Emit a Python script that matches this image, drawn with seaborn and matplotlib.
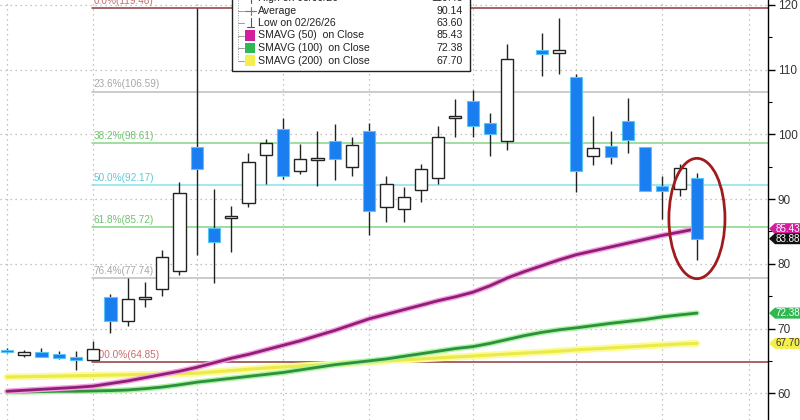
import numpy as np
import pandas as pd
import matplotlib
matplotlib.use("Agg")
import matplotlib.pyplot as plt
from matplotlib.patches import Ellipse, Rectangle, Polygon
import seaborn as sns

sns.set_style("white")
plt.rcParams['font.family'] = ['Liberation Sans', 'DejaVu Sans']

# ---------------- data ----------------
day_index = list(range(41))
opens = [66.5, 65.9, 66.3, 66.05, 65.6, 65.2, 74.9, 71.15, 74.55, 76.1,
         78.9, 98.1, 85.6, 87.05, 89.35, 96.8, 100.8, 94.4, 96.1, 99.0,
         95.0, 100.5, 88.8, 88.4, 91.35, 93.3, 102.6, 105.2, 101.8, 99.0,
         np.nan, 113.05, 112.6, 108.8, 96.7, 98.25, 102.1, 98.0, 92.1, 91.5,
         93.2]
highs = [67.0, 66.7, 67.0, 66.6, 66.6, 68.1, 75.3, 77.75, 77.2, 82.1,
         92.7, 119.48, 91.5, 89.0, 97.2, 99.3, 102.6, 98.5, 100.5, 101.6,
         99.65, 101.8, 93.5, 91.8, 95.4, 101.3, 105.4, 106.9, 103.35, 114.0,
         np.nan, 115.6, 118.0, 109.4, 102.85, 100.5, 105.7, 98.0, 93.5, 95.5,
         94.1]
lows = [66.15, 65.55, 65.6, 65.25, 63.6, 65.2, 69.25, 70.4, 73.4, 75.1,
        78.3, 81.4, 77.0, 81.9, 88.8, 92.3, 93.1, 93.9, 92.0, 92.95,
        93.6, 84.45, 86.4, 86.5, 89.6, 92.3, 99.55, 99.65, 96.65, 97.6,
        np.nan, 109.0, 109.3, 91.05, 95.3, 95.5, 97.1, 91.25, 87.0, 90.5,
        80.6]
closes = [66.35, 66.3, 65.6, 65.4, 65.1, 66.9, 71.2, 74.55, 74.75, 81.0,
          90.9, 94.65, 83.4, 87.3, 95.7, 98.7, 93.6, 96.15, 96.3, 96.2,
          98.4, 88.2, 92.3, 90.3, 94.6, 99.65, 102.8, 101.35, 100.05, 111.6,
          np.nan, 112.4, 113.05, 94.4, 97.95, 96.55, 99.15, 91.25, 91.25, 94.75,
          83.88]

sma50 = [60.3, 60.45, 60.6, 60.75, 60.9, 61.1, 61.5, 61.9, 62.4, 62.9,
         63.4, 64.0, 64.7, 65.4, 66.0, 66.7, 67.4, 68.1, 68.9, 69.7,
         70.6, 71.5, 72.2, 72.9, 73.6, 74.3, 74.9, 75.6, 76.6, 77.8,
         78.8, 79.7, 80.6, 81.4, 82.0, 82.6, 83.2, 83.8, 84.4, 84.9, 85.43]
sma100 = [60.2, 60.2, 60.25, 60.3, 60.3, 60.35, 60.4, 60.5, 60.7, 60.95,
          61.3, 61.7, 62.0, 62.3, 62.6, 62.9, 63.2, 63.6, 64.0, 64.4,
          64.7, 65.0, 65.3, 65.7, 66.1, 66.5, 66.9, 67.2, 67.7, 68.3,
          68.9, 69.4, 69.8, 70.1, 70.45, 70.8, 71.1, 71.4, 71.8, 72.1, 72.38]
sma200 = [62.5, 62.55, 62.6, 62.65, 62.7, 62.75, 62.8, 62.85, 62.9, 62.95,
          63.0, 63.1, 63.3, 63.5, 63.7, 63.9, 64.05, 64.2, 64.35, 64.5,
          64.65, 64.8, 65.0, 65.15, 65.3, 65.45, 65.6, 65.75, 65.9, 66.05,
          66.2, 66.35, 66.5, 66.7, 66.85, 67.0, 67.15, 67.3, 67.45, 67.6, 67.70]

fib_pct = ["0.0%", "23.6%", "38.2%", "50.0%", "61.8%", "76.4%", "100.0%"]
fib_val = [119.48, 106.59, 98.61, 92.17, 85.72, 77.74, 64.85]
fib_line_col = ["#8c3b3b", "#bdbdbd", "#86d486", "#86e3ea", "#86d486", "#bdbdbd", "#8c3b3b"]
fib_text_col = ["#c96d6d", "#a8a8a8", "#6cc46c", "#5fc9d6", "#6cc46c", "#a8a8a8", "#c96d6d"]

legend_labels = ["High on 03/09/26", "Average", "Low on 02/26/26",
                 "SMAVG (50)  on Close", "SMAVG (100)  on Close", "SMAVG (200)  on Close"]
legend_values = ["119.48", "90.14", "63.60", "85.43", "72.38", "67.70"]

tag_values = [85.43, 83.88, 72.38, 67.70]
tag_bg = ["#d21f9e", "#111111", "#2fb84f", "#f4ef4c"]
tag_fg = ["white", "white", "white", "#333333"]

yticks = [60, 70, 80, 90, 100, 110, 120]
vgrid_days = [0, 5, 11, 16, 21, 27, 33, 38, 43]

# ---------------- figure ----------------
W, H = 800, 420
fig = plt.figure(figsize=(8, 4.2), dpi=100)
ax = fig.add_axes([0, 0, 768 / W, 1])
XMIN, XMAX = -0.406, 44.12
YMIN, YMAX = 55.86, 120.77
ax.set_xlim(XMIN, XMAX)
ax.set_ylim(YMIN, YMAX)

# grid
for y in yticks:
    ax.axhline(y, color="#b0b0b0", lw=0.9, ls=(0, (1, 3)), zorder=0)
for d in vgrid_days:
    ax.axvline(d, color="#b0b0b0", lw=0.9, ls=(0, (1, 3)), zorder=0)

# fibonacci levels
for p, v, lc, tc in zip(fib_pct, fib_val, fib_line_col, fib_text_col):
    ax.plot([4.95, XMAX], [v, v], color=lc, lw=1.1, zorder=1)
    ax.text(5.0, v + 0.35, f"{p}({v:.2f})", color=tc, fontsize=7.2,
            va="bottom", ha="left", zorder=1)

# moving averages with glow
ma_df = pd.DataFrame({"day": day_index, "s50": sma50, "s100": sma100, "s200": sma200})
sns.lineplot(data=ma_df, x="day", y="s200", ax=ax, color="#fbfb9a", lw=5, zorder=2, legend=False)
sns.lineplot(data=ma_df, x="day", y="s200", ax=ax, color="#eaea4a", lw=2.2, zorder=2, legend=False)
sns.lineplot(data=ma_df, x="day", y="s100", ax=ax, color="#a8f5a0", lw=4.0, zorder=2, legend=False)
sns.lineplot(data=ma_df, x="day", y="s100", ax=ax, color="#2f8f3f", lw=2.0, zorder=2, legend=False)
sns.lineplot(data=ma_df, x="day", y="s50", ax=ax, color="#f5a0e4", lw=4.0, zorder=2, legend=False)
sns.lineplot(data=ma_df, x="day", y="s50", ax=ax, color="#8e1f74", lw=2.0, zorder=2, legend=False)

# candles
o = np.array(opens); h = np.array(highs); l = np.array(lows); c = np.array(closes)
x = np.array(day_index, dtype=float)
ok = ~np.isnan(o)
ax.vlines(x[ok], l[ok], h[ok], color="#222222", lw=1.0, zorder=3)
down = ok & (o > c)
up = ok & (o <= c)
body_min = 0.28
hgt = np.maximum(np.abs(c - o), body_min)
bot = np.minimum(o, c)
ax.bar(x[down], hgt[down], bottom=bot[down], width=0.7, color="#1a7df0",
       edgecolor="#58c6f5", linewidth=0.8, zorder=4)
ax.bar(x[up], hgt[up], bottom=bot[up], width=0.7, color="white",
       edgecolor="#222222", linewidth=1.0, zorder=4)

# red ellipse
ax.add_patch(Ellipse((40, 87.0), width=3.25, height=18.6, fill=False,
                     ec="#a01c1c", lw=2.0, zorder=5))

# axes styling
for s in ["left", "top", "bottom"]:
    ax.spines[s].set_visible(False)
ax.spines["right"].set_color("black")
ax.spines["right"].set_linewidth(1.0)
ax.yaxis.tick_right()
ax.set_yticks(yticks)
ax.set_yticklabels([str(t) for t in yticks])
ax.set_yticks([65, 75, 85, 95, 105, 115], minor=True)
ax.tick_params(axis="y", which="major", direction="out", length=5, width=1,
               colors="black", labelsize=8.5, pad=2, labelcolor="#333333")
ax.tick_params(axis="y", which="minor", direction="out", length=3, width=0.8, colors="black")
ax.set_xticks([])
ax.set_xlabel(""); ax.set_ylabel("")

# right-side value tags (arrow-shaped, in figure pixels)
def F(px, py):
    return (px / W, 1 - py / H)

for v, bg, fg in zip(tag_values, tag_bg, tag_fg):
    py = (YMAX - v) / (YMAX - YMIN) * H
    hh = 5.5
    pts = [F(769, py), F(775, py - hh), F(800, py - hh), F(800, py + hh), F(775, py + hh)]
    fig.patches.append(Polygon(pts, closed=True, transform=fig.transFigure,
                               fc=bg, ec="none", zorder=5))
    fig.text(*F(775.5, py), f"{v:.2f}", fontsize=7.1, color=fg, ha="left",
             va="center", zorder=6)

# legend box (cut off at the top)
def P(px, py):
    return (px / 768.0, 1 - py / 420.0)

lx0, lx1, ly1 = 232, 470, 71
ax.add_patch(Rectangle(P(lx0, ly1), (lx1 - lx0) / 768.0, (ly1 + 20) / 420.0,
                       transform=ax.transAxes, fc="white", ec="#222222", lw=1.0,
                       zorder=8, clip_on=False))
rows_y = [-2, 10.5, 23, 35.5, 48, 60.5]
ax.plot([P(238, 0)[0], P(238, 61)[0]], [P(238, 0)[1], P(238, 61)[1]],
        transform=ax.transAxes, color="#9a9a9a", lw=0.7, ls=(0, (1, 1.5)), zorder=9)
sq_cols = [None, None, None, "#d21f9e", "#2fb84f", "#f4ef4c"]
for k, (lab, val, ry) in enumerate(zip(legend_labels, legend_values, rows_y)):
    ax.plot([P(238, ry)[0], P(244, ry)[0]], [P(238, ry)[1]] * 2, transform=ax.transAxes,
            color="#9a9a9a", lw=0.7, zorder=9)
    if sq_cols[k] is not None:
        ax.add_patch(Rectangle(P(245, ry + 5), 10 / 768.0, 10 / 420.0, transform=ax.transAxes,
                               fc=sq_cols[k], ec="none", zorder=9))
    elif k == 1:
        ax.plot([P(245, ry)[0], P(256, ry)[0]], [P(245, ry)[1]] * 2, transform=ax.transAxes,
                color="#777777", lw=0.8, zorder=9)
        ax.plot([P(250.5, ry - 4)[0]] * 2, [P(250.5, ry - 4)[1], P(250.5, ry + 4)[1]],
                transform=ax.transAxes, color="#777777", lw=0.8, zorder=9)
    elif k == 2:
        ax.plot([P(250.5, ry - 5)[0]] * 2, [P(250.5, ry - 5)[1], P(250.5, ry + 4)[1]],
                transform=ax.transAxes, color="#555555", lw=0.8, zorder=9)
        ax.plot([P(247, ry + 4)[0], P(254, ry + 4)[0]], [P(247, ry + 4)[1]] * 2,
                transform=ax.transAxes, color="#555555", lw=0.8, zorder=9)
    else:
        ax.plot([P(250.5, ry - 4)[0]] * 2, [P(250.5, ry - 4)[1], P(250.5, ry + 5)[1]],
                transform=ax.transAxes, color="#555555", lw=0.8, zorder=9)
        ax.plot([P(247, ry - 4)[0], P(254, ry - 4)[0]], [P(247, ry - 4)[1]] * 2,
                transform=ax.transAxes, color="#555555", lw=0.8, zorder=9)
    ax.text(*P(258, ry), lab, transform=ax.transAxes, fontsize=7.6, color="#222222",
            ha="left", va="center", zorder=9, clip_on=False)
    ax.text(*P(463, ry), val, transform=ax.transAxes, fontsize=7.6, color="#222222",
            ha="right", va="center", zorder=9, clip_on=False)

fig.savefig("out.png", dpi=100)
